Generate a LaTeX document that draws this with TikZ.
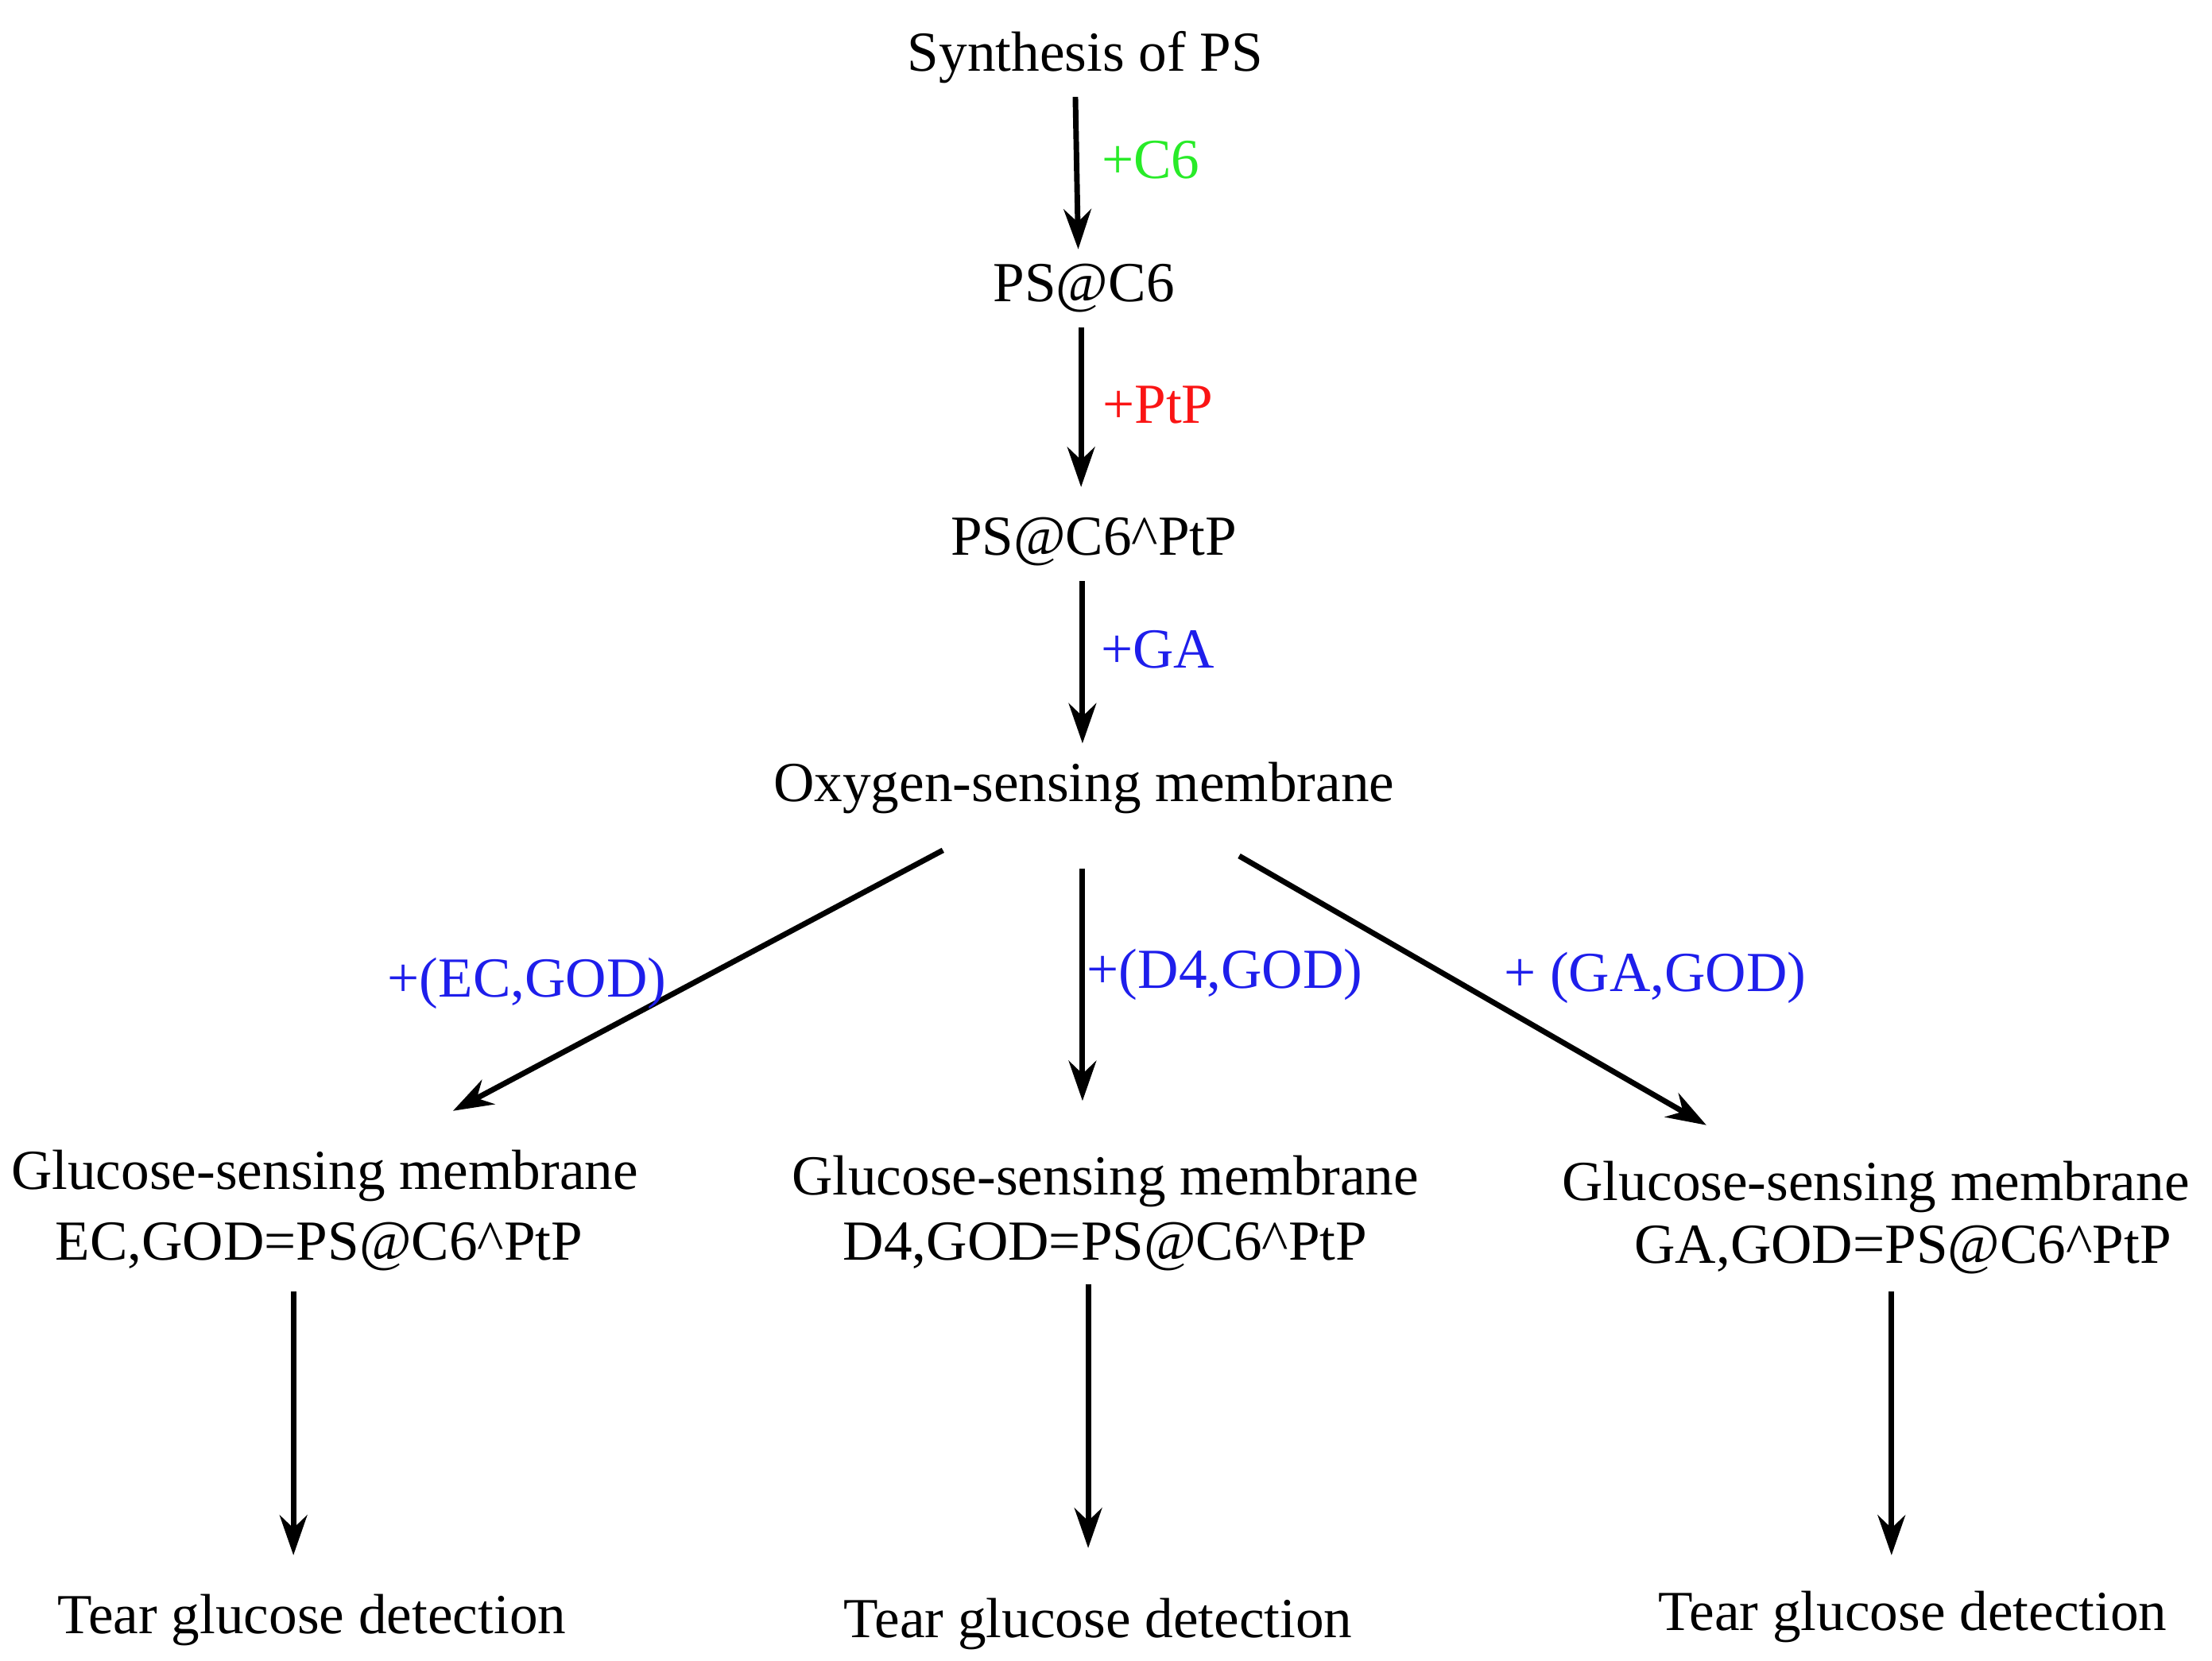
\documentclass[tikz,border=0pt]{standalone}
\usepackage{fontspec}
\setmainfont{Liberation Serif}
\usetikzlibrary{arrows.meta,calc}
\definecolor{addgreen}{RGB}{40,235,40}
\definecolor{addred}{RGB}{250,20,20}
\definecolor{addblue}{RGB}{30,30,235}

\begin{document}
\begin{tikzpicture}[x=0.01cm,y=-0.01cm,
    txt/.style={anchor=base,inner sep=0pt,font=\fontsize{11.3}{13}\selectfont},
    lbl/.style={txt,text=addblue},
    arr/.style={line width=1.1pt,-{Stealth[length=8pt,width=5.5pt]}}]
    \useasboundingbox (0,0) rectangle (1553,1166);

    % main chain
    \node[txt] (syn)  at (762,50)  {Synthesis of PS};
    \node[txt] (psc)  at (761,212) {PS@C6};
    \node[txt] (psp)  at (768,390) {PS@C6\^{}PtP};
    \node[txt] (ox)   at (761,563) {Oxygen-sensing membrane};

    \draw[arr] ($(syn.base)+(-7,18)$) -- ($(psc.base)+(-4,-37)$);
    \draw[arr] ($(psc.base)+(-2,18)$) -- ($(psc.base)+(-2,130)$);
    \draw[arr] ($(psp.base)+(-8,18)$) -- ($(psp.base)+(-8,132)$);

    \node[txt,text=addgreen] (c6)  at (808,125) {+C6};
    \node[txt,text=addred]   (ptp) at (813,297) {+PtP};
    \node[lbl]               (ga)  at (813,469) {+GA};

    % glucose-sensing membranes
    \node[txt] (g1a) at (228,835) {Glucose-sensing membrane};
    \node[txt] (g1b) at (224,885) {EC,GOD=PS@C6\^{}PtP};
    \node[txt] (g2a) at (776,839) {Glucose-sensing membrane};
    \node[txt] (g2b) at (776,885) {D4,GOD=PS@C6\^{}PtP};
    \node[txt] (g3a) at (1317,843) {Glucose-sensing membrane};
    \node[txt] (g3b) at (1336,887) {GA,GOD=PS@C6\^{}PtP};

    \draw[arr] ($(ox.base)+(-99,34)$) -- ($(g1a.base)+(90,-55)$);
    \draw[arr] ($(ox.base)+(-1,47)$)  -- ($(g2a.base)+(-16,-66)$);
    \draw[arr] ($(ox.base)+(109,38)$) -- ($(g3a.base)+(-119,-53)$);

    \node[lbl] (ec)  at (370,700)  {+(EC,GOD)};
    \node[lbl] (d4)  at (860,694)  {+(D4,GOD)};
    \node[lbl] (gag) at (1162,696) {+ (GA,GOD)};

    % detection
    \node[txt] (t1) at (219,1147) {Tear glucose detection};
    \node[txt] (t2) at (771,1150) {Tear glucose detection};
    \node[txt] (t3) at (1343,1145) {Tear glucose detection};

    \draw[arr] ($(g1b.base)+(-18,22)$) -- ($(t1.base)+(-13,-55)$);
    \draw[arr] ($(g2b.base)+(-12,17)$) -- ($(t2.base)+(-7,-63)$);
    \draw[arr] ($(g3b.base)+(-8,20)$)  -- ($(t3.base)+(-15,-53)$);
\end{tikzpicture}
\end{document}
